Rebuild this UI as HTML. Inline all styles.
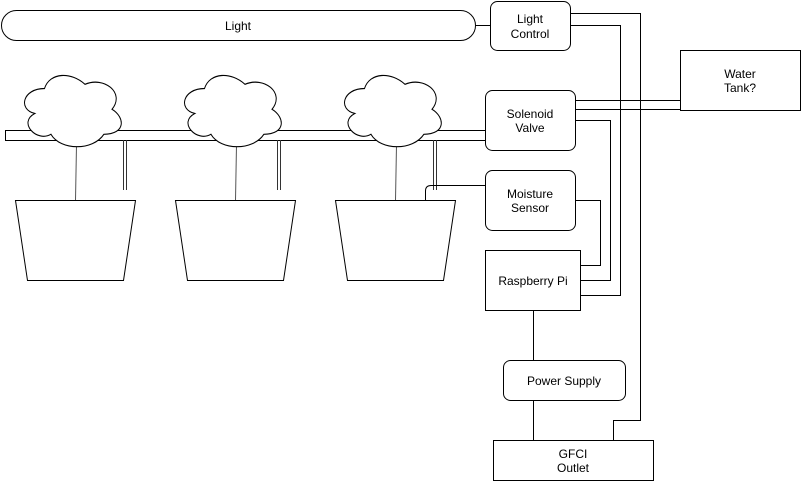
<!DOCTYPE html>
<html><head><style>
html,body{margin:0;padding:0;background:#fff;}
svg{display:block;}
text{font-family:"Liberation Sans",Helvetica,sans-serif;font-size:12px;fill:#000;text-anchor:middle;}
</style></head><body>
<svg width="801" height="481" viewBox="0 0 801 481" xmlns="http://www.w3.org/2000/svg">
<defs>
<path id="cl" d="M 30 20 C 6 20 0 40 19.2 44 C 0 52.8 21.6 72 37.2 64 C 48 80 84 80 96 64 C 120 64 120 48 105 40 C 120 24 96 8 75 16 C 60 4 36 4 30 20 Z" fill="#fff" stroke="#000" stroke-width="1.1"/>
</defs>
<g fill="none" stroke="#000" stroke-width="1">
<rect x="1.5" y="10.5" width="474" height="30" rx="15" fill="#fff"/>
<line x1="475" y1="25.5" x2="490" y2="25.5"/>
<rect x="490.5" y="1.5" width="80" height="49" rx="7" fill="#fff"/>
<polyline points="571,13.5 640.5,13.5 640.5,420.5 613.5,420.5 613.5,440"/>
<polyline points="571,25.5 620.5,25.5 620.5,295.5 580,295.5"/>
<rect x="5.5" y="130.5" width="480" height="10" fill="#fff"/>
<rect x="485.5" y="90.5" width="90" height="60" rx="7" fill="#fff"/>
<line x1="575" y1="100.5" x2="680" y2="100.5"/>
<line x1="575" y1="109.5" x2="680" y2="109.5"/>
<rect x="680.5" y="50.5" width="120" height="60" fill="#fff"/>
<polyline points="575,120.5 610.5,120.5 610.5,280.5 580,280.5"/>
<rect x="485.5" y="170.5" width="90" height="60" rx="7" fill="#fff"/>
<polyline points="575,200.5 600.5,200.5 600.5,265.5 580,265.5"/>
<rect x="485.5" y="250.5" width="95" height="60" fill="#fff"/>
<line x1="533.5" y1="310" x2="533.5" y2="360"/>
<rect x="503.5" y="360.5" width="122" height="40" rx="7" fill="#fff"/>
<line x1="533.5" y1="400" x2="533.5" y2="440"/>
<rect x="493.5" y="440.5" width="160" height="40" fill="#fff"/>
<polygon points="15.5,200.5 135.5,200.5 123.5,280.5 27.5,280.5"/>
<polygon points="175.5,200.5 295.5,200.5 283.5,280.5 187.5,280.5"/>
<polygon points="335.5,200.5 455.5,200.5 443.5,280.5 347.5,280.5"/>
<line x1="76.5" y1="145" x2="75.5" y2="200" stroke="#555"/>
<line x1="236.5" y1="145" x2="235.5" y2="200" stroke="#555"/>
<line x1="396.5" y1="145" x2="395.5" y2="200" stroke="#555"/>
<g stroke="#333">
<line x1="123.5" y1="140" x2="123.5" y2="190"/><line x1="126.5" y1="140" x2="126.5" y2="190"/>
<line x1="277.5" y1="140" x2="277.5" y2="190"/><line x1="280.5" y1="140" x2="280.5" y2="190"/>
<line x1="433.5" y1="140" x2="433.5" y2="190"/><line x1="436.5" y1="140" x2="436.5" y2="190"/>
</g>
<path d="M485 185.5 L431 185.5 Q425.5 185.5 425.5 191 L425.5 200"/>
</g>
<use href="#cl" transform="translate(17.5,67.7) scale(0.9,1.04)"/>
<use href="#cl" transform="translate(177.5,67.7) scale(0.9,1.04)"/>
<use href="#cl" transform="translate(337.5,67.7) scale(0.9,1.04)"/>
<text x="238" y="30">Light</text>
<text x="530" y="23">Light</text>
<text x="530" y="38">Control</text>
<text x="530" y="118">Solenoid</text>
<text x="530" y="132">Valve</text>
<text x="530" y="198">Moisture</text>
<text x="530" y="212">Sensor</text>
<text x="533" y="285">Raspberry Pi</text>
<text x="564" y="385">Power Supply</text>
<text x="740" y="78">Water</text>
<text x="740" y="92">Tank?</text>
<text x="573" y="458">GFCI</text>
<text x="573" y="472">Outlet</text>
</svg>
</body></html>
